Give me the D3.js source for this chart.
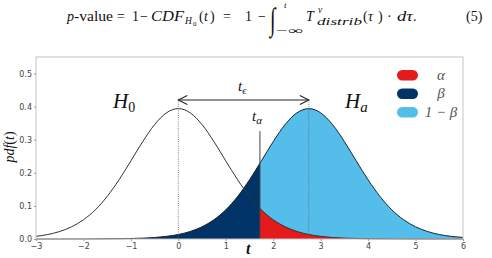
<!DOCTYPE html>
<html>
<head>
<meta charset="utf-8">
<script src="https://cdn.jsdelivr.net/npm/d3@7"></script>
<style>
  body { margin: 0; background: #fff; }
  svg { display: block; }
  .tick text { font-family: "DejaVu Sans", sans-serif; font-size: 8px; fill: #444; }
  .math { font-family: "Liberation Serif", "DejaVu Serif", serif; fill: #111; }
</style>
</head>
<body>
<svg id="chart" width="492" height="258"></svg>
<script>
  //============================================================
  // Data
  //------------------------------------------------------------

  var tGrid = [-3, -2.75, -2.5, -2.25, -2, -1.75, -1.5, -1.25, -1, -0.75, -0.5, -0.25,
    0, 0.25, 0.5, 0.75, 1, 1.25, 1.5, 1.75, 2, 2.25, 2.5, 2.75,
    3, 3.25, 3.5, 3.75, 4, 4.25, 4.5, 4.75, 5, 5.25, 5.5, 5.75, 6];

  var pdfH0 = [0.0080, 0.0136, 0.0227, 0.0369, 0.0581, 0.0881, 0.1286, 0.1789, 0.2360, 0.2944, 0.3458, 0.3813,
    0.3940, 0.3813, 0.3458, 0.2944, 0.2360, 0.1789, 0.1286, 0.0881, 0.0581, 0.0369, 0.0227, 0.0136,
    0.0080, 0.0046, 0.0026, 0.0015, 0.0008, 0.0005, 0.0003, 0.0001, 0.0001, 0, 0, 0, 0];

  var pdfHa = [0, 0, 0, 0.0001, 0.0001, 0.0003, 0.0005, 0.0008, 0.0015, 0.0026, 0.0046, 0.0080,
    0.0136, 0.0227, 0.0369, 0.0581, 0.0881, 0.1286, 0.1789, 0.2360, 0.2944, 0.3458, 0.3813, 0.3940,
    0.3813, 0.3458, 0.2944, 0.2360, 0.1789, 0.1286, 0.0881, 0.0581, 0.0369, 0.0227, 0.0136, 0.0080, 0.0046];

  var meanH0 = 0, meanHa = 2.75, tAlpha = 1.72;
  var xTicks = [-3, -2, -1, 0, 1, 2, 3, 4, 5, 6];
  var yTicks = [0, 0.1, 0.2, 0.3, 0.4, 0.5];
  var legendLabels = ["α", "β", "1 − β"];
  var legendColors = ["#e31b1c", "#003366", "#55bdea"];

  //============================================================
  // Setup
  //------------------------------------------------------------

  var margin = { top: 57, right: 29, bottom: 19, left: 36 },
    width = 492 - margin.left - margin.right,
    height = 258 - margin.top - margin.bottom;

  var svg = d3.select('#chart');

  var x = d3.scaleLinear().domain([-3, 6]).range([0, width]);
  var y = d3.scaleLinear().domain([0, 0.55]).range([height, 0]);

  var defs = svg.append('defs');
  defs.append('clipPath').attr('id', 'clipLeft')
    .append('rect').attr('x', 0).attr('y', 0).attr('width', x(tAlpha)).attr('height', height);
  defs.append('clipPath').attr('id', 'clipRight')
    .append('rect').attr('x', x(tAlpha)).attr('y', 0).attr('width', width - x(tAlpha)).attr('height', height);

  var g = svg.append('g').attr('transform', 'translate(' + margin.left + ',' + margin.top + ')');

  var rowsH0 = tGrid.map(function(t, i) { return { t: t, p: pdfH0[i] }; });
  var rowsHa = tGrid.map(function(t, i) { return { t: t, p: pdfHa[i] }; });

  var area = d3.area().curve(d3.curveMonotoneX)
    .x(function(d) { return x(d.t); })
    .y0(y(0))
    .y1(function(d) { return y(d.p); });
  var line = d3.line().curve(d3.curveMonotoneX)
    .x(function(d) { return x(d.t); })
    .y(function(d) { return y(d.p); });

  //------------------------------------------------------------
  // Filled regions

  g.append('path').datum(rowsHa).attr('d', area).attr('fill', legendColors[2]);
  g.append('path').datum(rowsHa).attr('d', area).attr('fill', legendColors[1]).attr('clip-path', 'url(#clipLeft)');
  g.append('path').datum(rowsH0).attr('d', area).attr('fill', legendColors[0]).attr('clip-path', 'url(#clipRight)');

  //------------------------------------------------------------
  // Curves and guide lines

  g.append('path').datum(rowsHa).attr('d', line).attr('fill', 'none').attr('stroke', '#1c2630').attr('stroke-width', 1);
  g.append('path').datum(rowsH0).attr('d', line).attr('fill', 'none').attr('stroke', '#333').attr('stroke-width', 1);

  var arrowY = 0.42;
  [meanH0, meanHa].forEach(function(m) {
    g.append('line')
      .attr('x1', x(m)).attr('x2', x(m))
      .attr('y1', y(0)).attr('y2', y(arrowY))
      .attr('stroke', '#666').attr('stroke-width', 0.8).attr('stroke-dasharray', '1,1.2');
  });

  g.append('line')
    .attr('x1', x(tAlpha)).attr('x2', x(tAlpha))
    .attr('y1', y(0)).attr('y2', y(0.326))
    .attr('stroke', '#444').attr('stroke-width', 1);

  // double arrow for t_eps
  var ay = y(arrowY);
  g.append('line').attr('x1', x(meanH0)).attr('x2', x(meanHa)).attr('y1', ay).attr('y2', ay)
    .attr('stroke', '#222').attr('stroke-width', 1.1);
  g.append('path')
    .attr('d', 'M' + (x(meanH0) + 9) + ',' + (ay - 4.5) + 'L' + x(meanH0) + ',' + ay + 'L' + (x(meanH0) + 9) + ',' + (ay + 4.5))
    .attr('fill', 'none').attr('stroke', '#222').attr('stroke-width', 1.1);
  g.append('path')
    .attr('d', 'M' + (x(meanHa) - 9) + ',' + (ay - 4.5) + 'L' + x(meanHa) + ',' + ay + 'L' + (x(meanHa) - 9) + ',' + (ay + 4.5))
    .attr('fill', 'none').attr('stroke', '#222').attr('stroke-width', 1.1);

  //------------------------------------------------------------
  // Frame and axes

  g.append('rect').attr('width', width).attr('height', height)
    .attr('fill', 'none').attr('stroke', '#c4c4c4').attr('stroke-width', 1);

  var xAxis = g.append('g').attr('transform', 'translate(0,' + height + ')')
    .call(d3.axisBottom(x).tickValues(xTicks).tickSize(2).tickPadding(2).tickFormat(d3.format('d')));
  var yAxis = g.append('g')
    .call(d3.axisLeft(y).tickValues(yTicks).tickSize(2).tickPadding(2).tickFormat(d3.format('.1f')));
  [xAxis, yAxis].forEach(function(a) {
    a.select('.domain').remove();
    a.selectAll('.tick line').attr('stroke', '#999');
  });

  //------------------------------------------------------------
  // Math labels

  function mathText(px, py, size) {
    return svg.append('text').attr('class', 'math').attr('x', px).attr('y', py).attr('font-size', size);
  }

  var h0 = mathText(113, 108, 21);
  h0.append('tspan').attr('font-style', 'italic').text('H');
  h0.append('tspan').attr('font-size', 14).attr('dy', 4).text('0');

  var ha = mathText(345, 108, 21);
  ha.append('tspan').attr('font-style', 'italic').text('H');
  ha.append('tspan').attr('font-size', 15).attr('font-style', 'italic').attr('dy', 4).text('a');

  var te = mathText(238, 91, 15);
  te.append('tspan').attr('font-style', 'italic').text('t');
  te.append('tspan').attr('font-size', 10).attr('font-style', 'italic').attr('dy', 3).text('ϵ');

  var ta = mathText(252, 121, 15);
  ta.append('tspan').attr('font-style', 'italic').text('t');
  ta.append('tspan').attr('font-size', 11).attr('font-style', 'italic').attr('dy', 3).text('α');

  var yl = svg.append('text').attr('class', 'math').attr('font-size', 14)
    .attr('text-anchor', 'middle')
    .attr('transform', 'translate(14,147) rotate(-90)');
  yl.append('tspan').attr('font-style', 'italic').text('pdf');
  yl.append('tspan').text('(');
  yl.append('tspan').attr('font-style', 'italic').text('t');
  yl.append('tspan').text(')');

  mathText(246, 254, 16).attr('font-style', 'italic').attr('font-weight', 'bold').text('t');

  //------------------------------------------------------------
  // Legend

  var legend = svg.append('g');
  legendLabels.forEach(function(lab, i) {
    var ly = 70 + i * 18.5;
    legend.append('rect').attr('x', 397).attr('y', ly).attr('width', 21).attr('height', 10.5)
      .attr('rx', 5.2).attr('fill', legendColors[i]);
    legend.append('text').attr('class', 'math').attr('x', 441).attr('y', ly + 9.5)
      .attr('text-anchor', 'middle').attr('font-size', 15).attr('font-style', 'italic')
      .style('fill', '#555').text(lab);
  });

  //------------------------------------------------------------
  // Equation at the top (pieces placed one by one, like the typeset line)
  // [x, text, style, size, baseline, width]

  var eqPieces = [
    [67, 'p', 'italic', 14, 21, 0],
    [74, '-value', 'normal', 14, 21, 39],
    [117, '=', 'normal', 14, 21, 0],
    [132, '1', 'normal', 14, 21, 0],
    [140, '−', 'normal', 14, 21, 0],
    [151, 'CDF', 'italic', 14, 21, 33],
    [185, 'H', 'italic', 9.5, 24, 0],
    [193, '0', 'normal', 7, 26, 0],
    [199, '(', 'normal', 14, 21, 0],
    [204, 't', 'italic', 14, 21, 0],
    [210, ')', 'normal', 14, 21, 0],
    [223, '=', 'normal', 14, 21, 0],
    [245, '1', 'normal', 14, 21, 0],
    [258, '−', 'normal', 14, 21, 0],
    [284, 't', 'italic', 9, 8, 0],
    [276, '−∞', 'normal', 10, 34, 27],
    [306, 'T', 'italic', 14, 21, 0],
    [318, 'ν', 'italic', 9.5, 13, 0],
    [317, 'distrib', 'italic', 9.5, 25, 45],
    [363, '(', 'normal', 14, 21, 0],
    [368, 'τ', 'italic', 14, 21, 0],
    [378, ')', 'normal', 14, 21, 0],
    [387, '·', 'normal', 14, 21, 0],
    [397, 'dτ', 'italic', 14, 21, 16],
    [413, '.', 'normal', 14, 21, 0],
    [466, '(5)', 'normal', 14, 21, 0]
  ];
  eqPieces.forEach(function(p) {
    var t = mathText(p[0], p[4], p[3]).attr('font-style', p[2]).text(p[1]);
    if (p[5]) t.attr('textLength', p[5]).attr('lengthAdjust', 'spacingAndGlyphs');
  });

  // tall integral sign
  svg.append('text').attr('class', 'math')
    .attr('font-family', '"DejaVu Serif", serif')
    .attr('font-size', 20)
    .attr('transform', 'translate(270,30) scale(1,1.6)')
    .text('∫');
</script>
</body>
</html>
